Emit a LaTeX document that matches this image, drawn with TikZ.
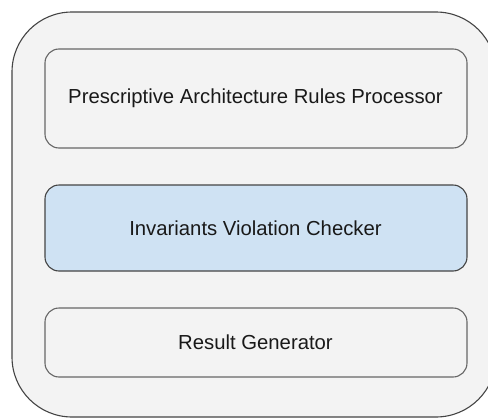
\documentclass[tikz,border=0pt]{standalone}
\usepackage{fontspec}
\setmainfont{Liberation Sans}
\definecolor{panelgray}{HTML}{F3F3F3}
\definecolor{edgegray}{HTML}{666666}
\definecolor{edgedark}{HTML}{444444}
\definecolor{paleblue}{HTML}{CFE2F3}
\begin{document}
\begin{tikzpicture}[x=1pt,y=-1pt,
  container/.style={draw=edgedark,fill=panelgray,line width=1.1pt,rounded corners=60pt},
  module/.style={draw=edgegray,fill=panelgray,line width=1.1pt,rounded corners=14pt},
  active/.style={module,fill=paleblue,draw=edgedark},
  label/.style={font=\fontsize{20.3}{24}\selectfont,text=black!90}]
  \useasboundingbox (0,0) rectangle (488,418);
  \clip (0,0) rectangle (488,418);
  % enclosing component
  \draw[container] (12,12) rectangle (496,417);
  % internal modules
  \draw[module] (45,49) rectangle (467,148);
  \node[label] (rules) at (255.5,98.5) {Prescriptive Architecture Rules Processor};
  \draw[active] (45,185) rectangle (467,271);
  \node[label] (checker) at (255.5,228) {Invariants Violation Checker};
  \draw[module] (45,308) rectangle (467,377);
  \node[label] (result) at (255.5,342.5) {Result Generator};
\end{tikzpicture}
\end{document}
